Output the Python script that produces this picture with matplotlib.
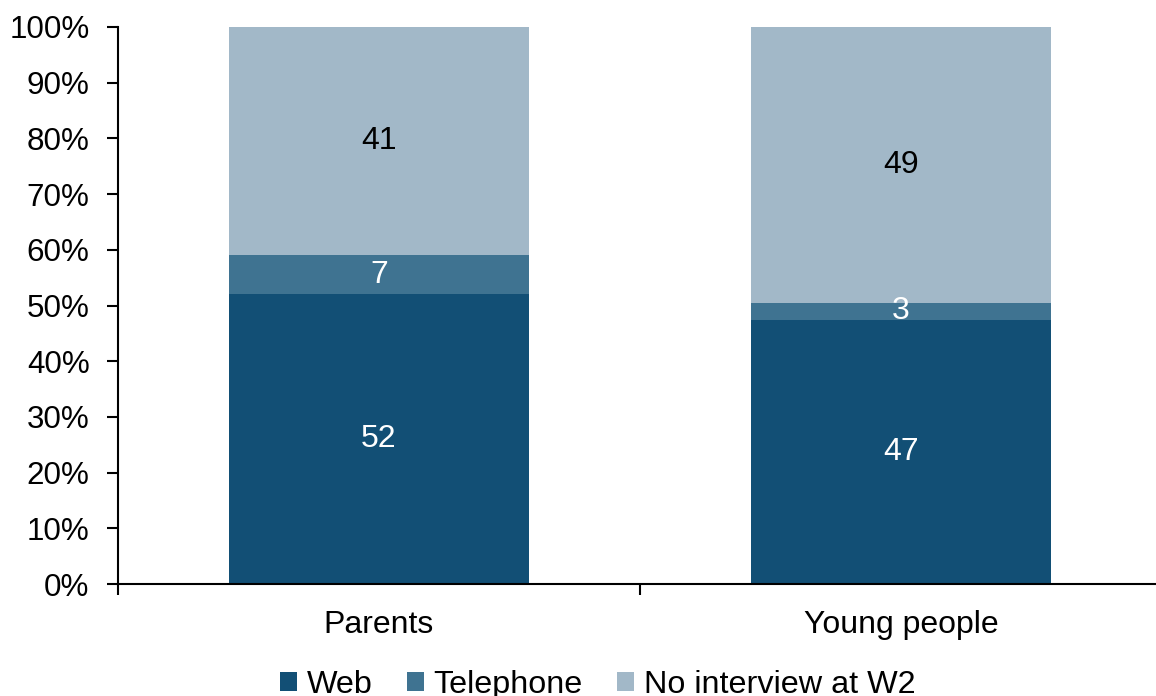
import matplotlib.pyplot as plt
import numpy as np

plt.rcParams['font.family'] = ['Liberation Sans', 'DejaVu Sans']

# Данные графика
groups = ['Parents', 'Young people']
series_names = ['Web', 'Telephone', 'No interview at W2']
web = [52.0, 47.4]
telephone = [7.0, 3.1]
no_interview = [41.0, 49.5]
web_labels = ['52', '47']
telephone_labels = ['7', '3']
no_interview_labels = ['41', '49']

colors = ['#124F75', '#3F7391', '#A2B8C8']
label_colors = ['white', 'white', 'black']

fig = plt.figure(figsize=(11.56, 6.96), dpi=100)
ax = fig.add_axes([118 / 1156, 112 / 696, 1044 / 1156, 557 / 696])

x = np.arange(len(groups))
bottom = np.zeros(len(groups))
series = [web, telephone, no_interview]
labels = [web_labels, telephone_labels, no_interview_labels]

for vals, labs, name, col, tcol in zip(series, labels, series_names, colors, label_colors):
    vals = np.array(vals)
    ax.bar(x, vals, bottom=bottom, width=0.573, color=col, label=name,
           edgecolor='none')
    for xi, b, v, lab in zip(x, bottom, vals, labs):
        ax.text(xi, b + v / 2, lab, ha='center', va='center', fontsize=23, color=tcol)
    bottom += vals

ax.set_xlim(-0.5, 1.5)
ax.set_ylim(0, 100)
ax.set_yticks(np.arange(0, 101, 10))
ax.set_yticklabels([f'{v}%' for v in range(0, 101, 10)], fontsize=22.6)

# Деления по оси X на границах категорий
ax.set_xticks([-0.5, 0.5, 1.5])
ax.set_xticklabels([])
ax.set_xticks(x, minor=True)
ax.set_xticklabels(groups, minor=True, fontsize=23)
ax.tick_params(axis='x', which='minor', length=0, pad=19)
ax.tick_params(axis='x', which='major', length=8, width=1.5, direction='out')
ax.tick_params(axis='y', length=8, width=1.5, direction='out', pad=12.5)

for s in ['top', 'right']:
    ax.spines[s].set_visible(False)
ax.spines['left'].set_linewidth(1.5)
ax.spines['bottom'].set_linewidth(1.5)

handles, leg_labels = ax.get_legend_handles_labels()
fig.legend(handles, leg_labels, loc='center', bbox_to_anchor=(0.517, 11 / 696),
           ncol=3, frameon=False, fontsize=23.3, handlelength=0.54, handleheight=0.54,
           handletextpad=0.3, columnspacing=1.05, borderpad=0)

fig.savefig('out.png', dpi=100)
